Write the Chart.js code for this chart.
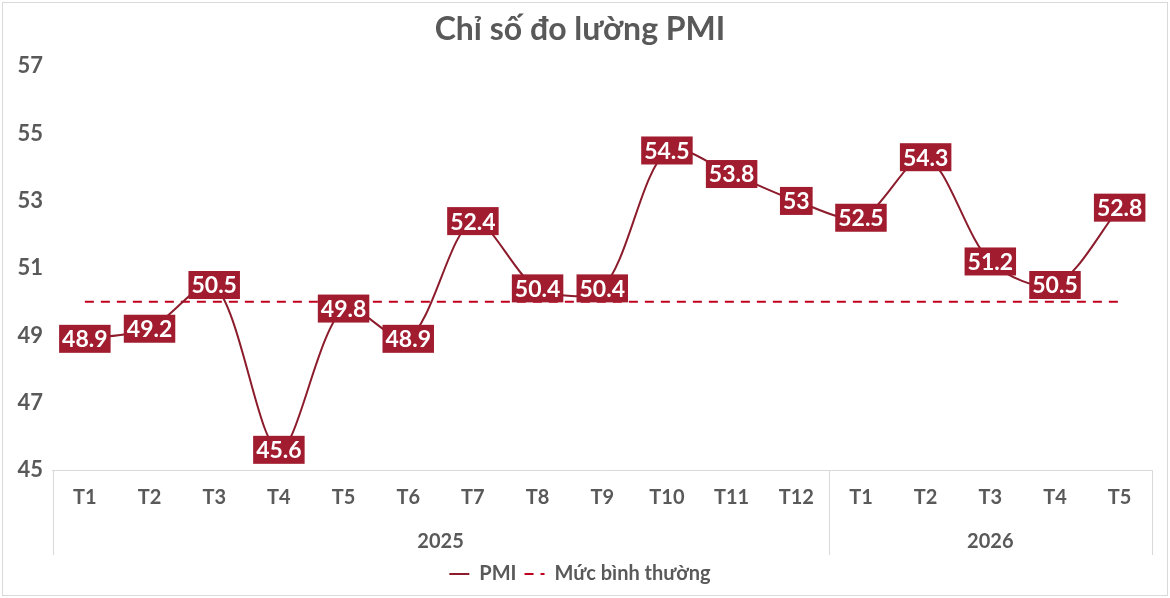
<!DOCTYPE html>
<html>
<head>
<meta charset="utf-8">
<script src="https://cdn.jsdelivr.net/npm/chart.js@4"></script>
<style>
  html, body { margin: 0; background: #fff; }
  #khung { width: 1170px; height: 598px; }
</style>
</head>
<body>
<div id="khung"><canvas id="graficoPMI"></canvas></div>
<script>
const thang = ['T1', 'T2', 'T3', 'T4', 'T5', 'T6', 'T7', 'T8', 'T9', 'T10', 'T11', 'T12', 'T1', 'T2', 'T3', 'T4', 'T5'];
const nam = ['2025', '2026'];
const soThangMoiNam = [12, 5];
const pmi = [48.9, 49.2, 50.5, 45.6, 49.8, 48.9, 52.4, 50.4, 50.4, 54.5, 53.8, 53, 52.5, 54.3, 51.2, 50.5, 52.8];
const mucBinhThuong = [50, 50, 50, 50, 50, 50, 50, 50, 50, 50, 50, 50, 50, 50, 50, 50, 50];

const XAM = '#595959';
const DUONG_KE = '#D9D9D9';

// Nền trắng + viền ngoài
const nenVaVien = {
  id: 'nenVaVien',
  beforeDraw(chart) {
    const ctx = chart.ctx;
    ctx.save();
    ctx.fillStyle = '#fff';
    ctx.fillRect(0, 0, chart.width, chart.height);
    ctx.strokeStyle = DUONG_KE;
    ctx.lineWidth = 1;
    ctx.strokeRect(2.5, 2.5, chart.width - 5, chart.height - 5);
    ctx.restore();
  }
};

// Nhãn giá trị trên từng điểm
const nhanDuLieu = {
  id: 'nhanDuLieu',
  afterDatasetsDraw(chart) {
    const ctx = chart.ctx;
    const meta = chart.getDatasetMeta(0);
    ctx.save();
    ctx.font = 'bold 23px Lato';
    ctx.textAlign = 'center';
    ctx.textBaseline = 'middle';
    meta.data.forEach((p, i) => {
      const txt = String(pmi[i]);
      const w = ctx.measureText(txt).width + 6;
      const h = 28;
      ctx.fillStyle = '#A01C2E';
      ctx.fillRect(p.x - w / 2, p.y - h / 2, w, h);
      ctx.fillStyle = '#fff';
      ctx.fillText(txt, p.x, p.y + 1);
    });
    ctx.restore();
  }
};

// Hàng năm dưới trục X
const hangNam = {
  id: 'hangNam',
  afterDraw(chart) {
    const x = chart.scales.x;
    const ctx = chart.ctx;
    const buoc = x.width / thang.length;
    const tren = x.top;
    const duoi = x.bottom - 1;
    ctx.save();
    ctx.strokeStyle = DUONG_KE;
    ctx.lineWidth = 1;
    ctx.fillStyle = XAM;
    ctx.font = 'bold 20px Lato';
    ctx.textAlign = 'center';
    ctx.textBaseline = 'middle';
    let batDau = 0;
    const vach = [x.left];
    nam.forEach((n, k) => {
      const ketThuc = batDau + soThangMoiNam[k];
      const trai = x.left + batDau * buoc;
      const phai = x.left + ketThuc * buoc;
      vach.push(phai);
      ctx.fillText(n, (trai + phai) / 2, duoi - 13);
      batDau = ketThuc;
    });
    vach.forEach(v => {
      const xx = Math.round(v) + 0.5;
      ctx.beginPath();
      ctx.moveTo(xx, tren);
      ctx.lineTo(xx, duoi);
      ctx.stroke();
    });
    ctx.restore();
  }
};

new Chart(document.getElementById('graficoPMI'), {
  type: 'line',
  data: {
    labels: thang,
    datasets: [{
      label: 'PMI',
      data: pmi,
      borderColor: '#8C1C2C',
      borderWidth: 2,
      tension: 0.3,
      pointRadius: 0,
      pointStyle: 'line'
    }, {
      label: 'Mức bình thường',
      data: mucBinhThuong,
      borderColor: '#C0001F',
      borderWidth: 2,
      borderDash: [9, 7],
      pointRadius: 0,
      pointStyle: 'line'
    }]
  },
  options: {
    responsive: true,
    maintainAspectRatio: false,
    animation: false,
    layout: { padding: { left: 8, right: 18, top: 4, bottom: 4 } },
    plugins: {
      title: {
        display: true,
        text: 'Chỉ số đo lường PMI',
        color: XAM,
        font: { family: 'Lato', size: 32, weight: 'bold' },
        padding: { top: 6, bottom: 18 }
      },
      legend: {
        position: 'bottom',
        labels: {
          usePointStyle: true,
          pointStyle: 'line',
          pointStyleWidth: 20,
          color: XAM,
          font: { family: 'Lato', size: 20, weight: 'bold' },
          padding: 8,
          generateLabels(chart) {
            return chart.data.datasets.map((ds, i) => ({
              text: ds.label,
              datasetIndex: i,
              strokeStyle: ds.borderColor,
              fillStyle: ds.borderColor,
              lineWidth: 2,
              lineDash: ds.borderDash || [],
              pointStyle: 'line',
              fontColor: XAM,
              hidden: false
            }));
          }
        }
      },
      tooltip: { enabled: false }
    },
    scales: {
      x: {
        offset: true,
        grid: { display: false, drawTicks: false },
        border: { display: true, color: DUONG_KE },
        ticks: {
          color: XAM,
          font: { family: 'Lato', size: 20, weight: 'bold' },
          padding: 16,
          maxRotation: 0,
          autoSkip: false
        },
        afterFit(scale) { scale.height += 30; }
      },
      y: {
        min: 45,
        max: 57,
        grid: { display: false, drawTicks: false },
        border: { display: false },
        ticks: {
          stepSize: 2,
          color: XAM,
          font: { family: 'Lato', size: 22, weight: 'bold' },
          padding: 9.5
        }
      }
    }
  },
  plugins: [nenVaVien, nhanDuLieu, hangNam]
});
</script>
</body>
</html>
